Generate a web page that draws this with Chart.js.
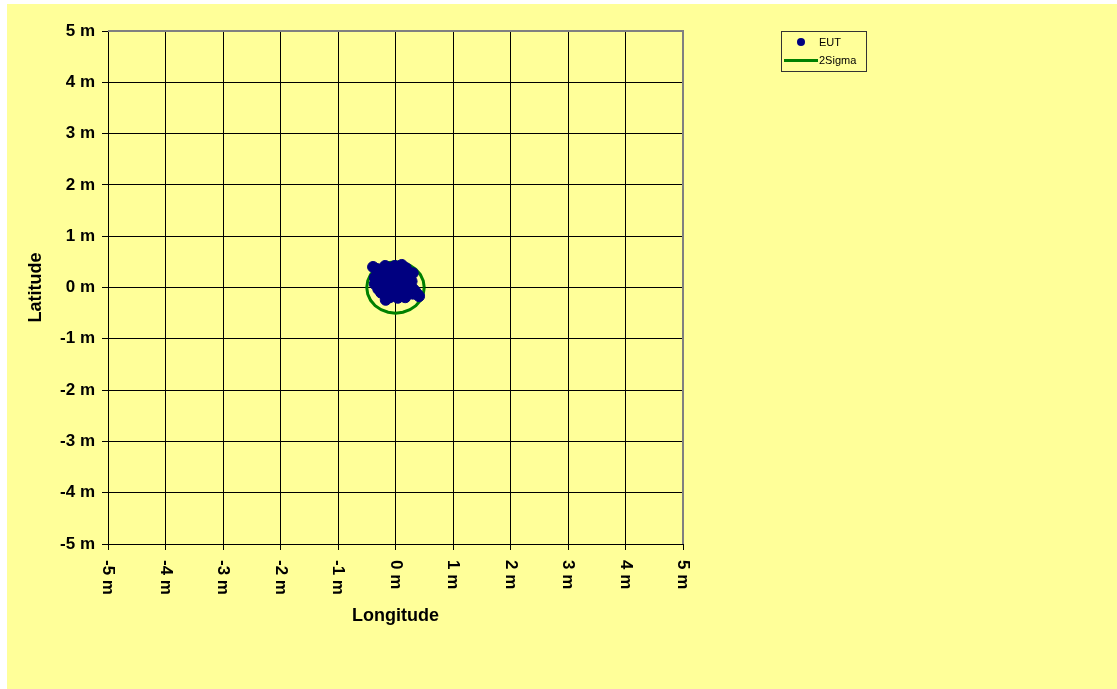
<!DOCTYPE html>
<html>
<head>
<meta charset="utf-8">
<script src="https://cdn.jsdelivr.net/npm/chart.js@4.4.1/dist/chart.umd.min.js"></script>
<style>
  html, body { margin: 0; padding: 0; background: #fff; }
  #wrap { position: absolute; left: 7px; top: 4px; width: 1110px; height: 685px; background: #ffff99; }
  #legend { position: absolute; left: 774px; top: 27px; width: 84px; height: 39px; border: 1px solid #333;
    font-family: "Liberation Sans", Arial, sans-serif; font-size: 11px; color: #000; }
  .item { position: absolute; left: 0; height: 14px; width: 84px; }
  .dot { position: absolute; left: 15px; top: 3px; width: 8px; height: 8px; border-radius: 50%; }
  .line { position: absolute; left: 2px; top: 6px; width: 34px; height: 3px; }
  .lbl { position: absolute; left: 37px; top: 0; line-height: 14px; }
</style>
</head>
<body>
<div id="wrap">
  <canvas id="chart"></canvas>
  <div id="legend"></div>
</div>
<script>
// axis ticks (metres)
const tickValues = [-5, -4, -3, -2, -1, 0, 1, 2, 3, 4, 5];
const tickLabels = ["-5 m", "-4 m", "-3 m", "-2 m", "-1 m", "0 m", "1 m", "2 m", "3 m", "4 m", "5 m"];

// EUT position fixes (longitude, latitude offsets in m)
const eutX = [-0.39, -0.32, -0.18, -0.01, 0.11, 0.18, 0.23, 0.15, 0.25, 0.34, 0.41, 0.17, 0.04, -0.10, -0.17,
  -0.30, -0.36, -0.36, -0.27, -0.20, 0.00, 0.10, -0.10, 0.00, -0.20, 0.05, -0.10, 0.10, 0.20, -0.17, 0.30,
  -0.30, -0.25, 0.05, 0.20, -0.05, 0.15, -0.25, 0.28, 0.05, -0.05, 0.30, -0.12, 0.38, 0.30, -0.08, 0.12];
const eutY = [0.40, 0.36, 0.42, 0.42, 0.44, 0.38, 0.26, 0.17, 0.05, -0.07, -0.17, -0.19, -0.20, -0.19, -0.17,
  -0.03, 0.07, 0.19, 0.26, 0.20, 0.20, 0.00, 0.00, -0.10, 0.05, 0.30, 0.30, -0.10, -0.05, -0.24, 0.28,
  0.10, -0.10, 0.10, 0.15, 0.15, 0.30, 0.35, 0.12, -0.05, -0.10, -0.12, 0.12, -0.13, -0.02, 0.38, 0.40];

// 2 sigma circle outline (r = 0.5 m)
const sigmaX = [0.5, 0.483, 0.433, 0.354, 0.25, 0.129, 0, -0.129, -0.25, -0.354, -0.433, -0.483, -0.5,
  -0.483, -0.433, -0.354, -0.25, -0.129, 0, 0.129, 0.25, 0.354, 0.433, 0.483, 0.5];
const sigmaY = [0, 0.129, 0.25, 0.354, 0.433, 0.483, 0.5, 0.483, 0.433, 0.354, 0.25, 0.129, 0,
  -0.129, -0.25, -0.354, -0.433, -0.483, -0.5, -0.483, -0.433, -0.354, -0.25, -0.129, 0];

const FONT = "'Liberation Sans', Arial, sans-serif";
const toPts = (xs, ys) => xs.map((x, i) => ({ x: x, y: ys[i] }));

// rotated (clockwise) x tick labels + grey plot frame
const extras = {
  id: "extras",
  afterDraw(chart) {
    const ctx = chart.ctx;
    const area = chart.chartArea;
    const xs = chart.scales.x;
    ctx.save();
    ctx.strokeStyle = "#808080";
    ctx.lineWidth = 2;
    ctx.beginPath();
    ctx.moveTo(area.left, area.top);
    ctx.lineTo(area.right, area.top);
    ctx.lineTo(area.right, area.bottom);
    ctx.stroke();
    ctx.fillStyle = "#000";
    ctx.font = "bold 17px " + FONT;
    ctx.textAlign = "left";
    ctx.textBaseline = "middle";
    tickValues.forEach((v, i) => {
      ctx.save();
      ctx.translate(xs.getPixelForValue(v), area.bottom + 16);
      ctx.rotate(Math.PI / 2);
      ctx.fillText(tickLabels[i], 0, 0);
      ctx.restore();
    });
    ctx.restore();
  },
};

const chart = new Chart(document.getElementById("chart"), {
  type: "scatter",
  data: {
    datasets: [
      {
        label: "EUT",
        data: toPts(eutX, eutY),
        backgroundColor: "#000080",
        borderColor: "#000080",
        pointRadius: 5.5,
        pointHoverRadius: 5.5,
      },
      {
        label: "2Sigma",
        data: toPts(sigmaX, sigmaY),
        showLine: true,
        borderColor: "#008000",
        borderWidth: 3,
        pointRadius: 0,
        tension: 0,
      },
    ],
  },
  options: {
    responsive: true,
    maintainAspectRatio: false,
    animation: false,
    layout: { padding: { left: 0, top: 27, right: 434, bottom: 0 } },
    plugins: {
      legend: { display: false },
      tooltip: { enabled: false },
    },
    scales: {
      x: {
        type: "linear",
        min: -5,
        max: 5,
        afterFit: (s) => { s.height = 145; },
        afterBuildTicks: (s) => { s.ticks = tickValues.map((v) => ({ value: v })); },
        grid: { color: "#000", lineWidth: 1, tickLength: 6 },
        border: { color: "#000", width: 1 },
        ticks: { display: false },
        title: {
          display: true,
          text: "Longitude",
          color: "#000",
          font: { family: FONT, size: 18, weight: "bold" },
          padding: { top: 0, bottom: 62 },
        },
      },
      y: {
        type: "linear",
        min: -5,
        max: 5,
        afterFit: (s) => { s.width = 101; },
        afterBuildTicks: (s) => { s.ticks = tickValues.map((v) => ({ value: v })); },
        grid: { color: "#000", lineWidth: 1, tickLength: 6 },
        border: { color: "#000", width: 1 },
        ticks: {
          color: "#000",
          padding: 7,
          font: { family: FONT, size: 17, weight: "bold" },
          callback: (v) => tickLabels[tickValues.indexOf(v)],
        },
        title: {
          display: true,
          text: "Latitude",
          color: "#000",
          font: { family: FONT, size: 18, weight: "bold" },
          padding: { top: 18, bottom: 0 },
        },
      },
    },
  },
  plugins: [extras],
});

// legend built from the dataset labels
const legend = document.getElementById("legend");
chart.data.datasets.forEach((ds, i) => {
  const item = document.createElement("div");
  item.className = "item";
  item.style.top = (3 + i * 18) + "px";
  const mark = document.createElement("span");
  mark.className = i === 0 ? "dot" : "line";
  mark.style.background = ds.borderColor;
  const lbl = document.createElement("span");
  lbl.className = "lbl";
  lbl.textContent = ds.label;
  item.appendChild(mark);
  item.appendChild(lbl);
  legend.appendChild(item);
});
</script>
</body>
</html>
